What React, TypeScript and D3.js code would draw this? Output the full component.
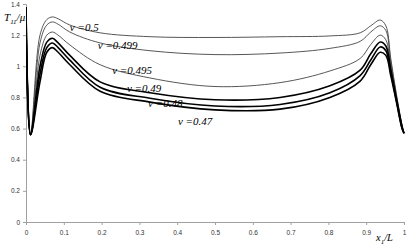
import React, { useEffect, useRef } from 'react';
import * as d3 from 'd3';

// sample positions along x1/L
const xs = [0, 0.012, 0.037, 0.055, 0.07, 0.085, 0.116, 0.196, 0.328, 0.5, 0.672, 0.804, 0.884, 0.912, 0.937, 0.952, 0.965, 0.98, 0.995, 1];

const nu50 = [1.38, 0.56, 1.2, 1.3, 1.317, 1.305, 1.265, 1.215, 1.19, 1.185, 1.19, 1.195, 1.215, 1.26, 1.297, 1.26, 1.05, 0.82, 0.62, 0.57];
const nu499 = [1.38, 0.56, 1.15, 1.265, 1.285, 1.27, 1.22, 1.15, 1.1, 1.075, 1.085, 1.115, 1.16, 1.22, 1.26, 1.23, 1.03, 0.81, 0.62, 0.57];
const nu495 = [1.38, 0.56, 1.07, 1.2, 1.22, 1.2, 1.137, 1.01, 0.925, 0.87, 0.895, 0.97, 1.05, 1.14, 1.2, 1.17, 1.0, 0.8, 0.61, 0.57];
const nu49 = [1.38, 0.56, 1.0, 1.155, 1.18, 1.15, 1.07, 0.9, 0.83, 0.785, 0.8, 0.875, 0.975, 1.08, 1.156, 1.13, 0.98, 0.79, 0.61, 0.57];
const nu48 = [1.38, 0.56, 0.95, 1.12, 1.15, 1.12, 1.04, 0.865, 0.795, 0.745, 0.755, 0.83, 0.94, 1.04, 1.124, 1.1, 0.96, 0.78, 0.6, 0.57];
const nu47 = [1.38, 0.56, 0.9, 1.09, 1.12, 1.09, 1.01, 0.84, 0.77, 0.72, 0.725, 0.8, 0.905, 1.01, 1.09, 1.07, 0.94, 0.77, 0.6, 0.57];

const seriesNames = ['ν =0.5', 'ν =0.499', 'ν =0.495', 'ν =0.49', 'ν =0.48', 'ν =0.47'];
const seriesValues = [nu50, nu499, nu495, nu49, nu48, nu47];

const xTicks = [0, 0.1, 0.2, 0.3, 0.4, 0.5, 0.6, 0.7, 0.8, 0.9, 1];
const yTicks = [0, 0.2, 0.4, 0.6, 0.8, 1, 1.2, 1.4];

// where each curve label sits (data coords, baseline start)
const labelAt = [
  [0.116, 1.227],
  [0.19, 1.111],
  [0.228, 0.95],
  [0.267, 0.835],
  [0.323, 0.739],
  [0.402, 0.623],
];

const W = 407;
const H = 247;

export default function App() {
  const gx = useRef<SVGGElement | null>(null);
  const gy = useRef<SVGGElement | null>(null);

  const x = d3.scaleLinear().domain([0, 1]).range([26, 404]);
  const y = d3.scaleLinear().domain([0, 1.4]).range([222, 4]);

  useEffect(() => {
    const ax = d3.axisBottom(x).tickValues(xTicks).tickSize(3).tickFormat((d: any) => String(d));
    const ay = d3.axisLeft(y).tickValues(yTicks).tickSize(3).tickFormat((d: any) => String(d));
    const sx = d3.select(gx.current!).call(ax as any);
    const sy = d3.select(gy.current!).call(ay as any);
    [sx, sy].forEach((s) => {
      s.select('.domain').attr('stroke', '#a0a0a0');
      s.selectAll('.tick line').attr('stroke', '#a0a0a0');
      s.selectAll('.tick text')
        .attr('fill', '#333')
        .style('font-family', 'Arial, "Liberation Sans", sans-serif')
        .style('font-size', '6.5px');
    });
    sx.selectAll('.tick text').attr('dy', '0.71em').attr('y', 8);
    sy.selectAll('.tick text').attr('x', -6);
  }, []);

  const line = d3
    .line<number>()
    .x((_, i) => x(xs[i]))
    .y((d) => y(d))
    .curve(d3.curveCatmullRom.alpha(0.5));

  return (
    <svg width={W} height={H} style={{ position: 'absolute', left: 0, top: 0, background: '#fff' }}>
      <defs>
        <clipPath id="plot">
          <rect x={26} y={3} width={380} height={220} />
        </clipPath>
      </defs>
      <g ref={gx} transform={`translate(0,${y(0)})`} />
      <g ref={gy} transform={`translate(${x(0)},0)`} />
      <g clipPath="url(#plot)">
        {seriesValues.map((vals, i) => (
          <path
            key={i}
            d={line(vals) || ''}
            fill="none"
            stroke={i < 3 ? '#444' : '#000'}
            strokeWidth={i < 3 ? 0.9 : 1.6}
          />
        ))}
      </g>
      {seriesNames.map((n, i) => (
        <text
          key={n}
          x={x(labelAt[i][0])}
          y={y(labelAt[i][1])}
          fontFamily='"Liberation Serif", "Times New Roman", serif'
          fontStyle="italic"
          fontSize={11}
          fill="#000"
        >
          {n}
        </text>
      ))}
      <text x={4} y={21} fontFamily='"Liberation Serif", serif' fontStyle="italic" fontSize={11}>
        T<tspan fontSize={7} dy={3}>11</tspan>
        <tspan dy={-3}>/μ</tspan>
      </text>
      <text x={376} y={241} fontFamily='"Liberation Serif", serif' fontStyle="italic" fontSize={10.5}>
        x<tspan fontSize={7} dy={2.5}>1</tspan>
        <tspan dy={-2.5}>/L</tspan>
      </text>
    </svg>
  );
}
